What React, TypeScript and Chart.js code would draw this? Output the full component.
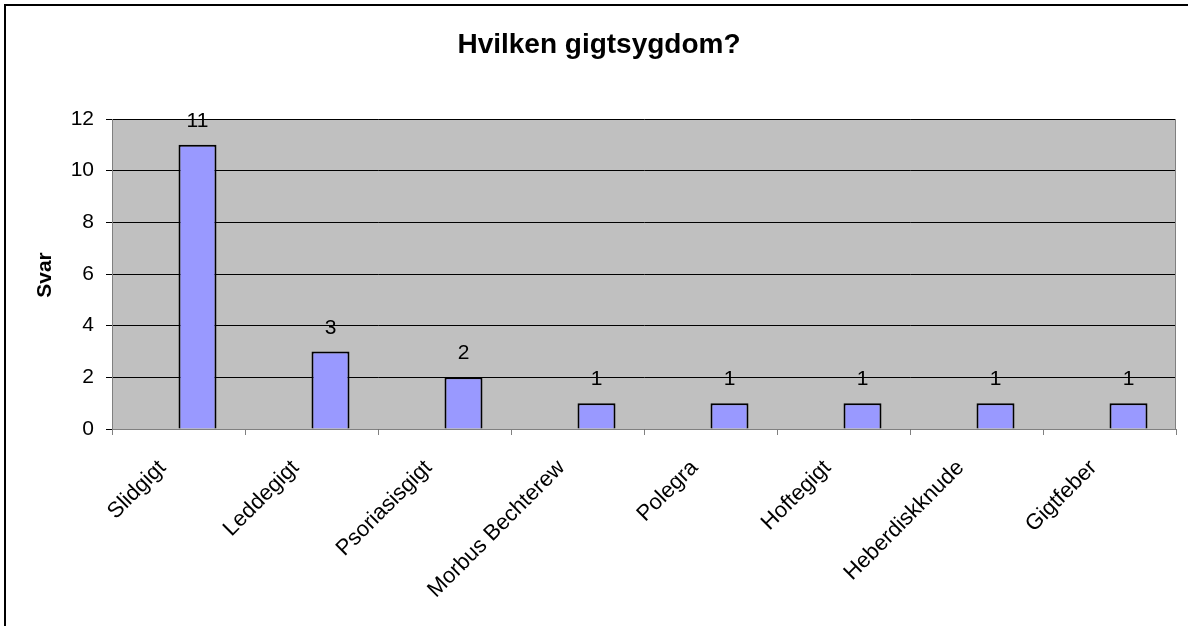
import React, { useEffect, useRef } from "react";
import { Chart, registerables } from "chart.js";

Chart.register(...registerables);

const categories = [
  "Slidgigt",
  "Leddegigt",
  "Psoriasisgigt",
  "Morbus Bechterew",
  "Polegra",
  "Hoftegigt",
  "Heberdiskknude",
  "Gigtfeber",
];
const emptySeries = [null, null, null, null, null, null, null, null];
const answers = [11, 3, 2, 1, 1, 1, 1, 1];
const yTicks = [0, 2, 4, 6, 8, 10, 12];
const titleText = "Hvilken gigtsygdom?";
const yTitle = "Svar";

const FONT = "'Liberation Sans', Arial, Helvetica, sans-serif";

const W = 1188;
const H = 626;
const PLOT_LEFT = 112;
const PLOT_RIGHT = 1176;
const PLOT_TOP = 119;
const PLOT_BOTTOM = 429;

const decorPlugin = {
  id: "decor",
  beforeDraw(chart: any) {
    const { ctx, chartArea } = chart;
    ctx.save();
    ctx.fillStyle = "#ffffff";
    ctx.fillRect(0, 0, chart.width, chart.height);
    // outer frame (top & left visible)
    ctx.fillStyle = "#000000";
    ctx.fillRect(4, 4, chart.width, 2);
    ctx.fillRect(4, 4, 2, chart.height);
    // plot area
    ctx.fillStyle = "#C0C0C0";
    ctx.fillRect(chartArea.left, chartArea.top, chartArea.right - chartArea.left, chartArea.bottom - chartArea.top);
    ctx.restore();
  },
  afterDraw(chart: any) {
    const { ctx, chartArea } = chart;
    ctx.save();
    ctx.strokeStyle = "#808080";
    ctx.lineWidth = 1;
    ctx.beginPath();
    ctx.moveTo(chartArea.right - 0.5, chartArea.top);
    ctx.lineTo(chartArea.right - 0.5, chartArea.bottom);
    ctx.stroke();
    // title
    ctx.fillStyle = "#000000";
    ctx.font = `bold 28px ${FONT}`;
    ctx.textAlign = "center";
    ctx.textBaseline = "alphabetic";
    ctx.fillText(titleText, 599, 53);
    // y title
    ctx.font = `bold 21px ${FONT}`;
    ctx.translate(51, 275);
    ctx.rotate(-Math.PI / 2);
    ctx.textAlign = "center";
    ctx.fillText(yTitle, 0, 0);
    ctx.restore();
  },
  afterDatasetsDraw(chart: any) {
    const { ctx } = chart;
    const meta = chart.getDatasetMeta(1);
    const data = chart.data.datasets[1].data;
    ctx.save();
    ctx.fillStyle = "#000000";
    ctx.font = `21px ${FONT}`;
    ctx.textAlign = "center";
    ctx.textBaseline = "alphabetic";
    meta.data.forEach((el: any, i: number) => {
      ctx.fillText(String(data[i]), el.x, el.y - 18);
    });
    ctx.restore();
  },
};

export default function App() {
  const ref = useRef<HTMLCanvasElement | null>(null);

  useEffect(() => {
    if (!ref.current) return;
    const chart = new Chart(ref.current, {
      type: "bar",
      data: {
        labels: categories,
        datasets: [
          {
            label: "",
            data: emptySeries as any,
            backgroundColor: "#9999FF",
            borderColor: "#000000",
            borderWidth: 2,
          },
          {
            label: yTitle,
            data: answers,
            backgroundColor: "#9999FF",
            borderColor: "#000000",
            borderWidth: 2,
          },
        ],
      },
      options: {
        responsive: false,
        animation: false,
        devicePixelRatio: 1,
        categoryPercentage: 76 / 133,
        barPercentage: 1,
        layout: {
          padding: { left: 0, top: PLOT_TOP, right: W - PLOT_RIGHT, bottom: 0 },
        },
        plugins: {
          legend: { display: false },
          title: { display: false },
          tooltip: { enabled: false },
        },
        scales: {
          x: {
            offset: true,
            grid: {
              display: true,
              drawOnChartArea: false,
              drawTicks: true,
              tickLength: 6,
              color: "#808080",
              offset: true,
            },
            border: { display: true, color: "#808080", width: 1 },
            ticks: {
              color: "#000000",
              font: { family: FONT, size: 22 },
              minRotation: 45,
              maxRotation: 45,
              autoSkip: false,
              padding: 20,
              labelOffset: -16,
            },
            afterFit(scale: any) {
              scale.height = H - PLOT_BOTTOM;
            },
          },
          y: {
            min: 0,
            max: 12,
            afterBuildTicks(scale: any) {
              scale.ticks = yTicks.map((v) => ({ value: v }));
            },
            grid: {
              color: "#000000",
              lineWidth: 1,
              drawTicks: true,
              tickLength: 6,
            },
            border: { display: true, color: "#808080", width: 1 },
            ticks: {
              color: "#000000",
              font: { family: FONT, size: 21 },
              padding: 12,
            },
            afterFit(scale: any) {
              scale.width = PLOT_LEFT;
            },
          },
        },
      },
      plugins: [decorPlugin],
    });
    return () => chart.destroy();
  }, []);

  return (
    <div style={{ position: "fixed", left: 0, top: 0, width: W, height: H, background: "#fff" }}>
      <canvas ref={ref} width={W} height={H} style={{ width: W, height: H, display: "block" }} />
    </div>
  );
}
